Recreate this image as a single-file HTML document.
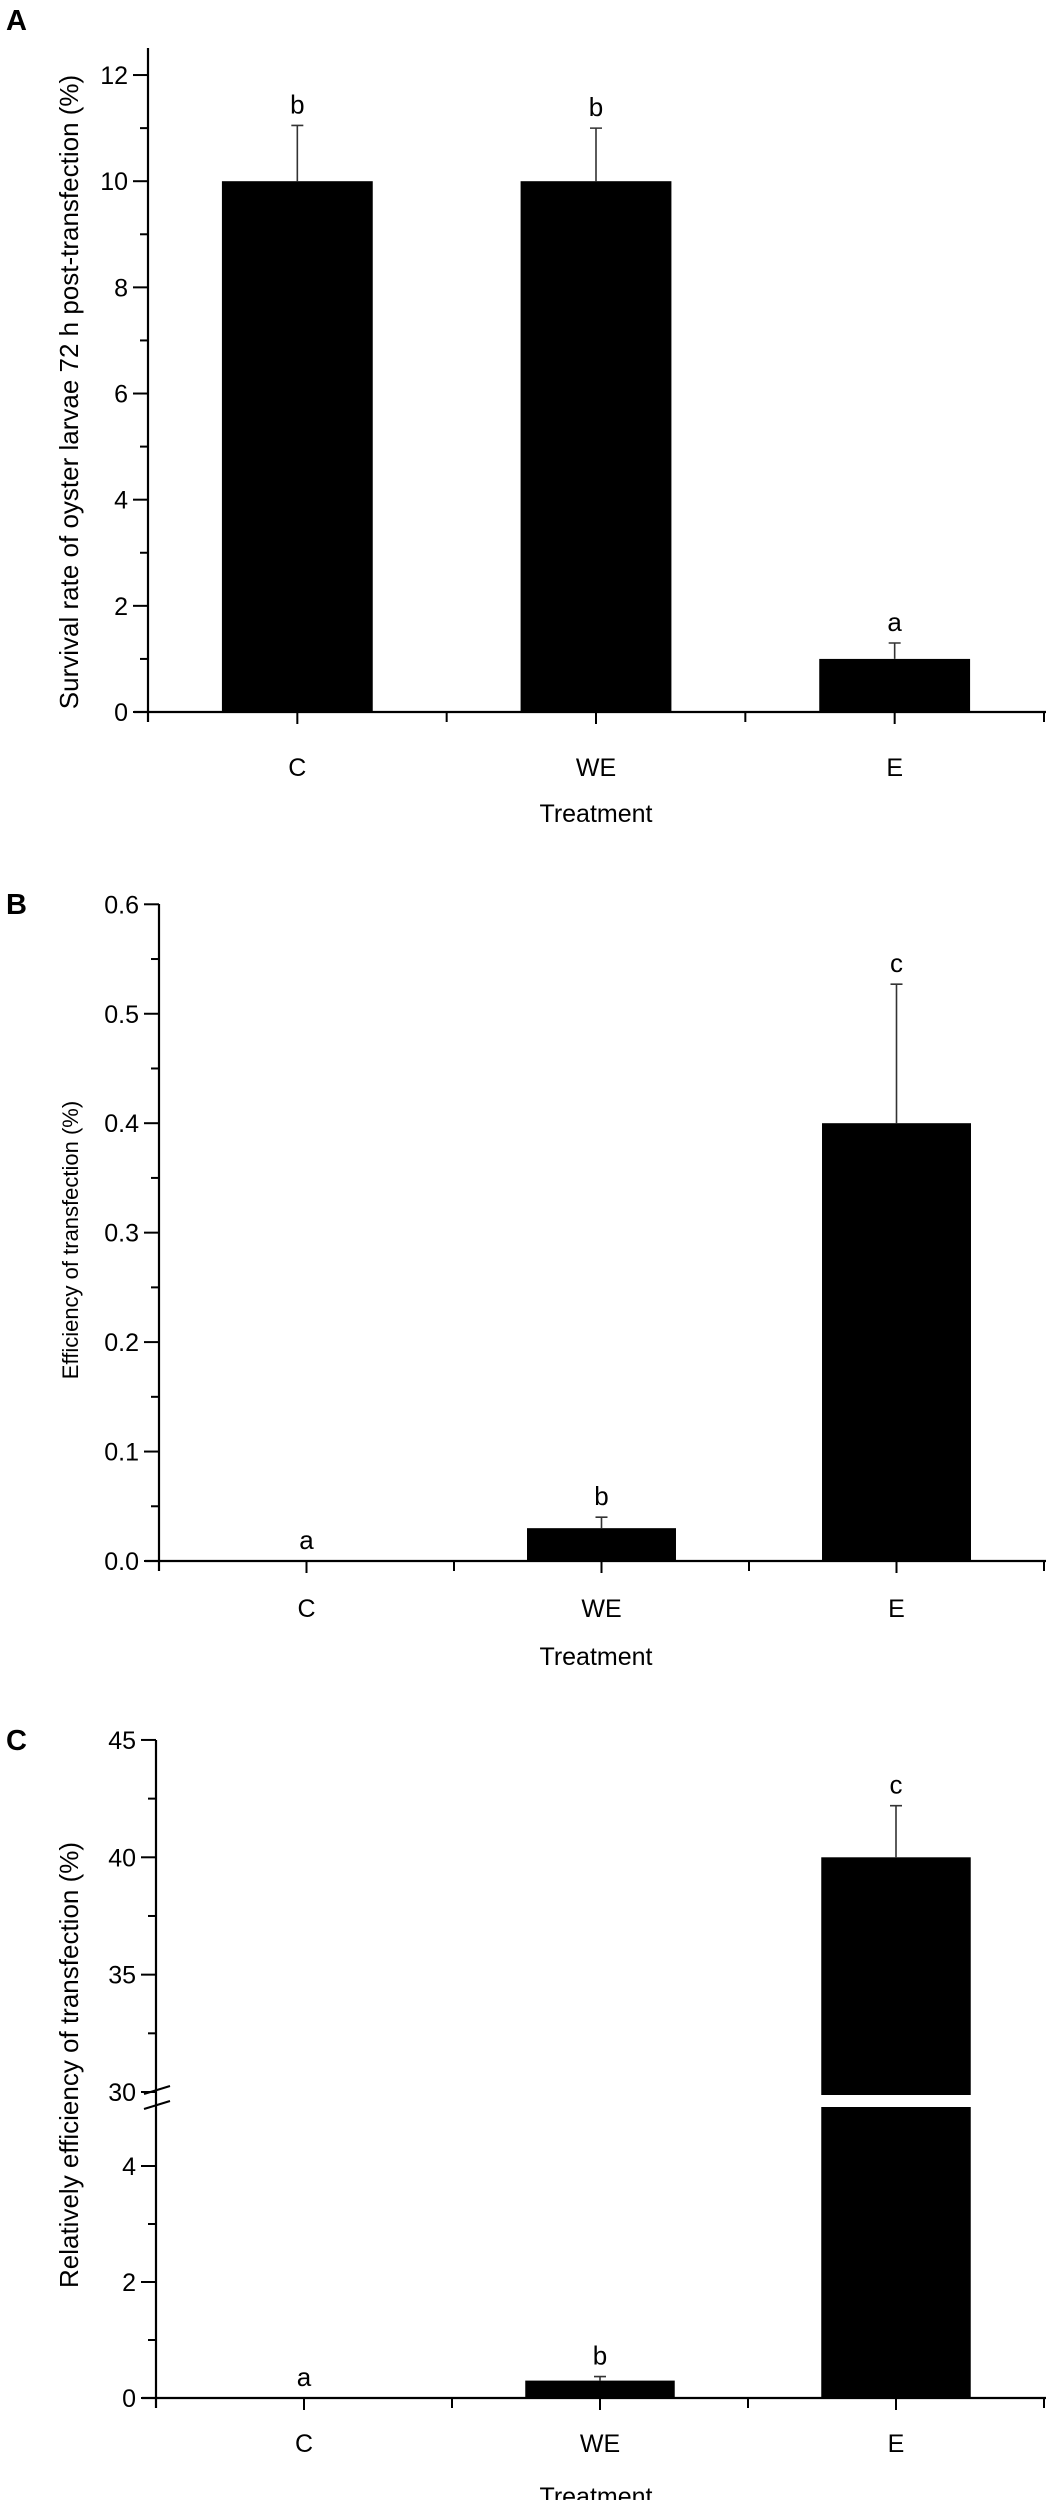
<!DOCTYPE html>
<html><head><meta charset="utf-8"><style>
html,body{margin:0;padding:0;background:#fff;}
svg{display:block;font-family:"Liberation Sans",Arial,sans-serif;}
</style></head><body>
<svg id="fig" width="1046" height="2500" viewBox="0 0 1046 2500" xmlns="http://www.w3.org/2000/svg"></svg>
<script>
const categories = ["C", "WE", "E"];
const survivalValues = [10, 10, 1.0];
const survivalErrors = [1.05, 1.0, 0.3];
const survivalLetters = ["b", "b", "a"];
const survivalTicks = ["0", "2", "4", "6", "8", "10", "12"];
const efficiencyValues = [0, 0.03, 0.4];
const efficiencyErrors = [0, 0.01, 0.127];
const efficiencyLetters = ["a", "b", "c"];
const efficiencyTicks = ["0.0", "0.1", "0.2", "0.3", "0.4", "0.5", "0.6"];
const relativeValues = [0, 0.3, 40];
const relativeErrors = [0, 0.07, 2.2];
const relativeLetters = ["a", "b", "c"];
const relativeLowTicks = ["0", "2", "4"];
const relativeHighTicks = ["30", "35", "40", "45"];

const NS = "http://www.w3.org/2000/svg";
const svg = document.getElementById("fig");
function mk(tag, attrs, parent) {
  const e = document.createElementNS(NS, tag);
  for (const k in attrs) e.setAttribute(k, attrs[k]);
  (parent || svg).appendChild(e);
  return e;
}
function txt(s, x, y, size, anchor, parent, extra) {
  const t = mk("text", Object.assign({x: x, y: y, "font-size": size, "text-anchor": anchor || "middle", fill: "#000"}, extra || {}), parent);
  t.textContent = s;
  return t;
}

function panel(cfg) {
  const g = mk("g", {});
  
  
  const x0 = cfg.x0, x1 = 1044, y0 = cfg.y0;
  const step = (x1 - x0) / categories.length;
  const cx = i => x0 + step * (i + 0.5);
  const Y = cfg.y;
  const pl = txt(cfg.letter, 6, cfg.letterY, 29, "start", g, {"font-weight": "bold"});
  
  
  categories.forEach((c, i) => {
    const v = cfg.values[i];
    const bw = step * 0.505;
    const ytop = Y(v);
    if (v > 0) {
      if (cfg.breakAt && v > cfg.breakAt) {
        const r1 = mk("rect", {x: cx(i) - bw / 2, y: ytop, width: bw, height: cfg.breakTop - ytop, fill: "#000"}, g);
        
        
        const r2 = mk("rect", {x: cx(i) - bw / 2, y: cfg.breakBottom, width: bw, height: y0 - cfg.breakBottom, fill: "#000"}, g);
        
        
      } else {
        const r = mk("rect", {x: cx(i) - bw / 2, y: ytop, width: bw, height: y0 - ytop, fill: "#000"}, g);
        
        
      }
    }
    let labelY = ytop;
    if (cfg.errors[i] > 0) {
      const ye = Y(v + cfg.errors[i]);
      const eb = mk("path", {d: `M${cx(i)},${ytop}V${ye}M${cx(i) - 6},${ye}H${cx(i) + 6}`, stroke: "#333", "stroke-width": 1.6, fill: "none"}, g);
      
      
      labelY = ye;
    }
    const lt = txt(cfg.letters[i], cx(i), labelY - 12, 26, "middle", g);
    
    
    const xt = mk("line", {x1: cx(i), y1: y0, x2: cx(i), y2: y0 + 12, stroke: "#000", "stroke-width": 2}, g);
    
    
    if (i > 0) {
      const mt = mk("line", {x1: x0 + step * i, y1: y0, x2: x0 + step * i, y2: y0 + 10, stroke: "#000", "stroke-width": 2}, g);
      
      
    }
    const xl = txt(c, cx(i), cfg.xLabelY, 25, "middle", g);
    
    
  });
  const et = mk("line", {x1: x1, y1: y0, x2: x1, y2: y0 + 10, stroke: "#000", "stroke-width": 2}, g);
  
  
  const xa = mk("line", {x1: x0 - 14, y1: y0, x2: x1 + 2, y2: y0, stroke: "#000", "stroke-width": 2.2}, g);
  
  
  const ya = mk("line", {x1: x0, y1: cfg.yTop, x2: x0, y2: y0 + 10, stroke: "#000", "stroke-width": 2.2}, g);
  
  
  cfg.tickSets.forEach(ts => {
    ts.labels.forEach((lab, k) => {
      const v = parseFloat(lab);
      const yy = Y(v);
      const t = mk("line", {x1: x0 - 15, y1: yy, x2: x0, y2: yy, stroke: "#000", "stroke-width": 2}, g);
      
      
      const tl = txt(lab, x0 - 20, yy + 9, 25, "end", g);
      
      
      if (k < ts.labels.length - 1) {
        const ym = Y(v + ts.minor);
        const m = mk("line", {x1: x0 - 8, y1: ym, x2: x0, y2: ym, stroke: "#000", "stroke-width": 2}, g);
        
        
      }
    });
  });
  if (cfg.breakAt) {
    const bm = mk("path", {d: `M${x0 - 12},${cfg.breakTop - 1}L${x0 + 14},${cfg.breakTop - 9}M${x0 - 12},${cfg.breakBottom + 2}L${x0 + 14},${cfg.breakBottom - 6}`, stroke: "#000", "stroke-width": 2, fill: "none"}, g);
    
    
  }
  const xt2 = txt("Treatment", 596, cfg.xTitleY, 25, "middle", g);
  
  
  const yt = txt(cfg.yTitle, 0, 0, cfg.yTitleSize, "middle", g, {transform: `translate(${cfg.yTitleX},${cfg.yTitleY}) rotate(-90)`});
  
  
}

panel({name: "panel-a-survival", letter: "A", letterY: 30, x0: 148, y0: 712, yTop: 48,
  y: v => 712 - v * 53.08, values: survivalValues, errors: survivalErrors, letters: survivalLetters,
  tickSets: [{labels: survivalTicks, minor: 1}], xLabelY: 776, xTitleY: 822,
  yTitle: "Survival rate of oyster larvae 72 h post-transfection (%)", yTitleSize: 26, yTitleX: 78, yTitleY: 392});
panel({name: "panel-b-efficiency", letter: "B", letterY: 914, x0: 159, y0: 1561, yTop: 904,
  y: v => 1561 - v * 1094.5, values: efficiencyValues, errors: efficiencyErrors, letters: efficiencyLetters,
  tickSets: [{labels: efficiencyTicks, minor: 0.05}], xLabelY: 1617, xTitleY: 1665,
  yTitle: "Efficiency of transfection (%)", yTitleSize: 22, yTitleX: 78, yTitleY: 1240});
function yC(v) {
  if (v <= 5) return 2398 - v * 58;
  return 2092 - (v - 30) * 23.47;
}
panel({name: "panel-c-relative-efficiency", letter: "C", letterY: 1750, x0: 156, y0: 2398, yTop: 1740,
  y: yC, values: relativeValues, errors: relativeErrors, letters: relativeLetters,
  breakAt: 5, breakTop: 2095, breakBottom: 2107,
  tickSets: [{labels: relativeLowTicks, minor: 1}, {labels: relativeHighTicks, minor: 2.5}],
  xLabelY: 2452, xTitleY: 2505,
  yTitle: "Relatively efficiency of transfection (%)", yTitleSize: 26, yTitleX: 78, yTitleY: 2065});
</script>
</body></html>
